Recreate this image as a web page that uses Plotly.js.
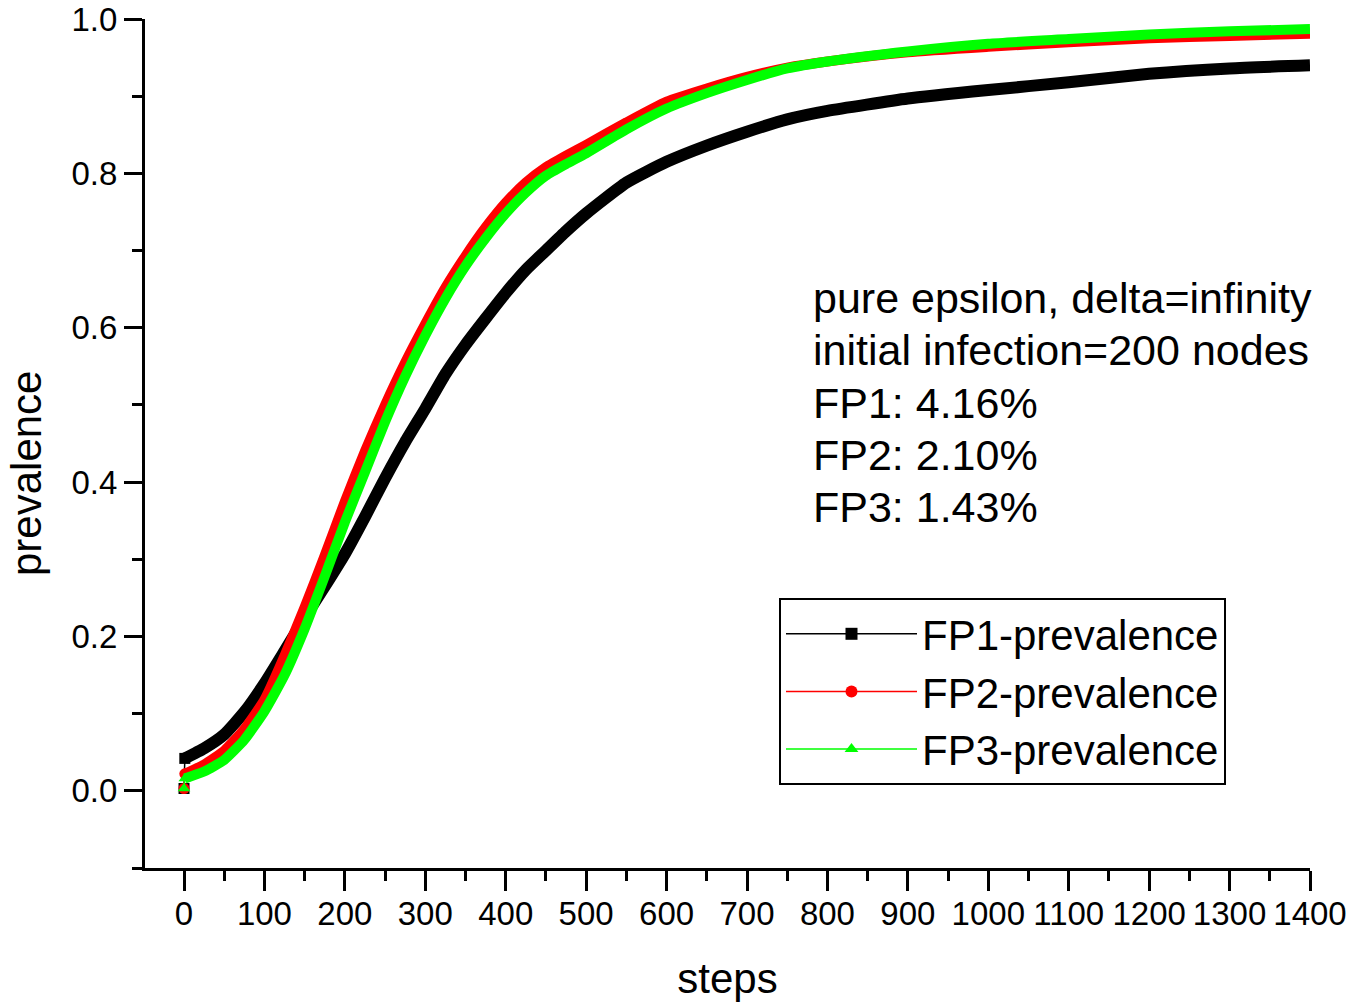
<!DOCTYPE html>
<html><head><meta charset="utf-8">
<script src="https://cdn.plot.ly/plotly-3.0.1.min.js"></script>
<style>html,body{margin:0;padding:0;background:#fff}#chart{width:1348px;height:1002px}</style>
</head><body><div id="chart"></div>
<script>
// ---- data ----
const steps = [0, 1, 25, 50, 75, 100, 125, 150, 175, 200, 225, 250, 275, 300, 325, 350, 375, 400, 425, 450, 475, 500, 550, 600, 650, 700, 750, 800, 900, 1000, 1100, 1200, 1300, 1400];
const fp1 = [0.003, 0.042, 0.055, 0.073, 0.102, 0.139, 0.181, 0.224, 0.265, 0.307, 0.355, 0.405, 0.452, 0.495, 0.540, 0.578, 0.612, 0.645, 0.675, 0.700, 0.725, 0.748, 0.788, 0.815, 0.836, 0.854, 0.870, 0.881, 0.897, 0.908, 0.918, 0.929, 0.936, 0.940];
const fp2 = [0.003, 0.022, 0.034, 0.052, 0.080, 0.118, 0.175, 0.238, 0.305, 0.375, 0.440, 0.500, 0.555, 0.605, 0.652, 0.693, 0.730, 0.762, 0.788, 0.808, 0.823, 0.837, 0.866, 0.893, 0.910, 0.925, 0.937, 0.945, 0.957, 0.964, 0.970, 0.975, 0.978, 0.981];
const fp3 = [0.003, 0.016, 0.025, 0.040, 0.066, 0.103, 0.150, 0.210, 0.278, 0.348, 0.413, 0.478, 0.537, 0.590, 0.638, 0.680, 0.716, 0.748, 0.775, 0.797, 0.812, 0.826, 0.857, 0.884, 0.904, 0.921, 0.936, 0.945, 0.958, 0.968, 0.974, 0.980, 0.984, 0.987];
const seriesNames = ['FP1-prevalence', 'FP2-prevalence', 'FP3-prevalence'];
const noteLines = ['pure epsilon, delta=infinity', 'initial infection=200 nodes', 'FP1: 4.16%', 'FP2: 2.10%', 'FP3: 1.43%'];
const xTitle = 'steps';
const yTitle = 'prevalence';

// ---- styles ----
const colors = ['#000000', '#ff0000', '#00ff00'];
const symbols = ['square', 'circle', 'triangle-up'];
const bandWidths = [12, 10, 10];
const series = [fp1, fp2, fp3];
const FONT = 'Liberation Sans, Arial, Helvetica, sans-serif';

const traces = [];
series.forEach((ys, i) => {
  traces.push({
    x: steps.slice(1), y: ys.slice(1), type: 'scatter', mode: 'lines',
    line: {color: colors[i], width: bandWidths[i], shape: 'spline', smoothing: 0.5},
    showlegend: false, hoverinfo: 'skip'
  });
  traces.push({
    x: steps.slice(0, 2), y: ys.slice(0, 2), type: 'scatter', mode: 'lines+markers',
    line: {color: colors[i], width: 1.5},
    marker: {symbol: symbols[i], size: 11, color: colors[i]},
    showlegend: false, hoverinfo: 'skip'
  });
});
seriesNames.forEach((name, i) => {
  traces.push({
    x: [null], y: [null], type: 'scatter', mode: 'lines+markers', name: name,
    line: {color: colors[i], width: 1.5},
    marker: {symbol: symbols[i], size: 12, color: colors[i]},
    showlegend: true
  });
});

const plotLeft = 145, plotW = 1165;
const plotTop = 19, plotBottom = 868, plotH = plotBottom - plotTop;
const noteTop = 298, noteGap = 52.3;
const annotations = noteLines.map((t, i) => ({
  text: t, xref: 'paper', yref: 'paper', x: (811 - plotLeft) / plotW, xanchor: 'left',
  y: (plotBottom - (noteTop + i * noteGap)) / plotH, yanchor: 'middle',
  showarrow: false, font: {family: FONT, size: 43, color: '#000'}
}));
// y-axis title (placed like the reference: slightly below the axis middle)
annotations.push({
  text: yTitle, xref: 'paper', yref: 'paper', x: (26 - plotLeft) / plotW, xanchor: 'center',
  y: (plotBottom - 474) / plotH, yanchor: 'middle', textangle: -90,
  showarrow: false, font: {family: FONT, size: 42, color: '#000'}
});

const axisCommon = {
  ticks: 'outside', tickwidth: 3, tickcolor: '#000', showline: true, linewidth: 3, linecolor: '#000',
  showgrid: false, zeroline: false, tickfont: {family: FONT, size: 33, color: '#000'}
};

const layout = {
  width: 1348, height: 1002,
  margin: {l: plotLeft, r: 1348 - plotLeft - plotW, t: plotTop, b: 1002 - plotBottom, pad: 0},
  paper_bgcolor: '#fff', plot_bgcolor: '#fff',
  font: {family: FONT, color: '#000'},
  showlegend: true,
  xaxis: Object.assign({}, axisCommon, {
    range: [-48.5, 1400], tick0: 0, dtick: 100, ticklen: 20, ticklabelstandoff: -6,
    minor: {tick0: 0, dtick: 50, ticks: 'outside', ticklen: 10, tickwidth: 3, tickcolor: '#000', showgrid: false},
    title: {text: xTitle, font: {family: FONT, size: 42, color: '#000'}, standoff: 34}
  }),
  yaxis: Object.assign({}, axisCommon, {
    range: [-0.1, 1.0], tick0: 0, dtick: 0.2, tickformat: '.1f', ticklen: 18,
    minor: {tick0: 0, dtick: 0.1, ticks: 'outside', ticklen: 10, tickwidth: 3, tickcolor: '#000', showgrid: false}
  }),
  legend: {
    x: (779 - plotLeft) / plotW, y: (plotBottom - 598) / plotH, xanchor: 'left', yanchor: 'top',
    bordercolor: '#000', borderwidth: 2, bgcolor: '#fff',
    font: {family: FONT, size: 42, color: '#000'}, itemwidth: 131, tracegroupgap: 0
  },
  annotations: annotations
};

Plotly.newPlot('chart', traces, layout, {displayModeBar: false, staticPlot: true});
</script>
</body></html>
